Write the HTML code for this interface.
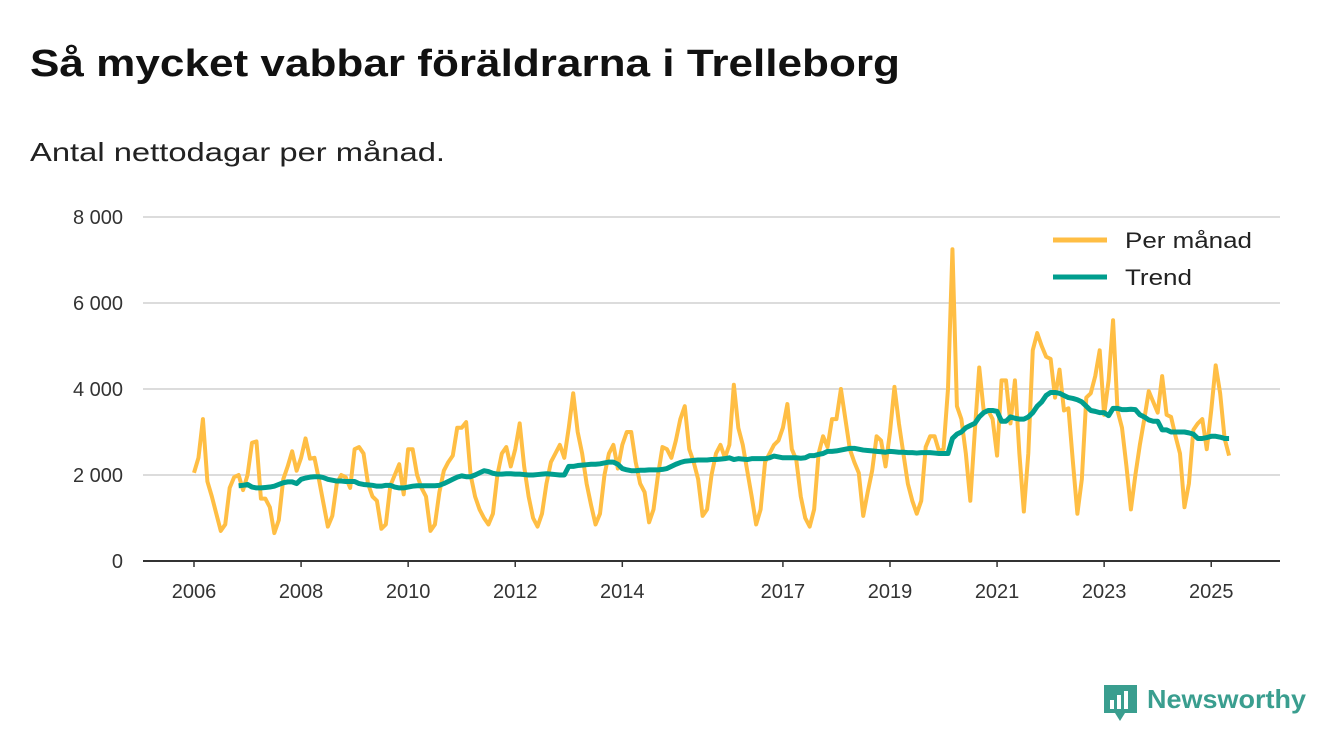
<!DOCTYPE html>
<html><head><meta charset="utf-8">
<style>
body{margin:0;background:#fff;width:1340px;height:753px;overflow:hidden;font-family:"Liberation Sans",sans-serif;}
svg{position:absolute;left:0;top:0}
</style></head>
<body>
<svg id="chart" width="1340" height="753">
<text x="30" y="76" font-size="38" font-weight="bold" fill="#111" textLength="870" lengthAdjust="spacingAndGlyphs">Så mycket vabbar föräldrarna i Trelleborg</text>
<text x="30" y="161" font-size="26" fill="#222" textLength="415" lengthAdjust="spacingAndGlyphs">Antal nettodagar per månad.</text>
<g id="grid"></g>
<g id="xaxis"></g>
<g id="series"></g>
<g>
<rect x="1045" y="222" width="220" height="80" fill="#fff" opacity="0.9"/>
<line x1="1053" y1="240" x2="1107" y2="240" stroke="#FFBE44" stroke-width="5"/>
<text x="1125" y="248" font-size="22" fill="#222" textLength="127" lengthAdjust="spacingAndGlyphs">Per månad</text>
<line x1="1053" y1="277" x2="1107" y2="277" stroke="#009E8E" stroke-width="5"/>
<text x="1125" y="285" font-size="22" fill="#222" textLength="67" lengthAdjust="spacingAndGlyphs">Trend</text>
</g>
<g>
<path d="M1104 685 h33 v28 h-12 l-5 8 l-5 -8 h-11 z" fill="#3a9e8f"/>
<rect x="1110" y="700" width="4" height="9" fill="#fff"/>
<rect x="1117" y="695" width="4" height="14" fill="#fff"/>
<rect x="1124" y="691" width="4" height="18" fill="#fff"/>
<text x="1147" y="708" font-size="26" font-weight="bold" fill="#3a9e8f" textLength="159" lengthAdjust="spacingAndGlyphs">Newsworthy</text>
</g>
</svg>
<script>
const yTicks=[0,2000,4000,6000,8000];
const yTickLabels=["0","2 000","4 000","6 000","8 000"];
const xTickYears=[2006,2008,2010,2012,2014,2017,2019,2021,2023,2025];
const monthly=[
2050,2400,3300,1850,1500,1100,700,850,1700,1950,2000,1650,
2000,2750,2780,1450,1450,1250,650,950,1900,2200,2550,2100,
2400,2850,2380,2400,1900,1350,800,1050,1800,2000,1950,1700,
2600,2650,2500,1800,1500,1400,750,850,1750,2000,2250,1550,
2600,2600,2000,1700,1500,700,850,1600,2100,2300,2450,3100,
3100,3230,2000,1500,1200,1000,850,1100,2000,2500,2650,2200,
2600,3200,2200,1500,1000,800,1100,1800,2300,2500,2700,2400,
3100,3900,3000,2500,1800,1300,850,1100,2000,2500,2700,2150,
2700,3000,3000,2300,1800,1600,900,1200,2000,2650,2600,2400,
2800,3300,3600,2600,2300,1900,1050,1200,2000,2500,2700,2400,
2700,4100,3100,2700,2100,1500,850,1200,2300,2500,2700,2800,
3100,3650,2600,2350,1500,1000,800,1200,2500,2900,2650,3300,
3300,4000,3300,2600,2300,2050,1050,1600,2100,2900,2800,2200,
3000,4050,3200,2500,1800,1400,1100,1400,2650,2900,2900,2550,
2600,4000,7250,3600,3300,2500,1400,3000,4500,3500,3500,3300,
2450,4200,4200,3200,4200,2500,1150,2500,4900,5300,5000,4750,
4700,3800,4450,3500,3550,2300,1100,1900,3800,3900,4300,4900,
3400,4200,5600,3500,3100,2200,1200,2000,2700,3300,3950,3700,
3450,4300,3400,3350,2900,2500,1250,1800,3050,3200,3300,2600,
3500,4550,3900,2850,2450];
const trendStart=10;
const trend=[1750,1760,
1780,1720,1700,1700,1710,1720,1740,1780,1820,1840,1840,1800,
1900,1930,1950,1960,1960,1940,1900,1880,1860,1860,1850,1850,
1850,1800,1780,1770,1760,1740,1740,1760,1760,1720,1700,1700,
1720,1740,1750,1750,1750,1750,1750,1760,1800,1850,1900,1950,
1980,1960,1960,2000,2050,2100,2080,2040,2020,2020,2030,2030,
2020,2020,2010,2000,2000,2010,2020,2030,2020,2010,2000,2000,
2200,2200,2220,2230,2240,2250,2250,2260,2280,2300,2300,2250,
2150,2120,2100,2100,2110,2110,2120,2120,2120,2130,2150,2200,
2250,2290,2320,2330,2340,2350,2350,2350,2360,2360,2370,2380,
2400,2360,2380,2370,2360,2380,2380,2380,2380,2400,2440,2420,
2400,2400,2400,2400,2390,2400,2450,2450,2480,2500,2550,2550,
2560,2580,2600,2620,2620,2600,2580,2570,2560,2550,2540,2530,
2550,2540,2530,2530,2520,2520,2510,2520,2520,2520,2510,2500,
2500,2500,2850,2950,3000,3100,3150,3200,3350,3450,3500,3500,
3480,3250,3250,3350,3320,3300,3300,3350,3450,3600,3700,3850,
3920,3920,3900,3850,3800,3780,3750,3700,3600,3500,3480,3450,
3450,3380,3550,3550,3520,3520,3530,3520,3400,3350,3280,3250,
3250,3050,3050,3000,3000,3000,3000,2980,2950,2850,2850,2870,
2900,2900,2880,2850,2850];
const NS="http://www.w3.org/2000/svg";
const X0=194,MW=4.4615,Y0=561,YS=0.043;
function xs(i){return X0+i*MW;}
function ys(v){return Y0-v*YS;}
function mk(tag,attrs,parent){const e=document.createElementNS(NS,tag);for(const k in attrs)e.setAttribute(k,attrs[k]);parent.appendChild(e);return e;}
const grid=document.getElementById('grid');
yTicks.forEach((t,i)=>{
  if(t>0){const l=mk('line',{x1:143,x2:1280,y1:ys(t),y2:ys(t),stroke:'#dcdcdc','stroke-width':2},grid);
  
  }
  const tx=mk('text',{x:123,y:ys(t)+7,'font-size':20,fill:'#333','text-anchor':'end'},grid);
  tx.textContent=yTickLabels[i];
  
  
});
const xa=document.getElementById('xaxis');
const ax=mk('line',{x1:143,x2:1280,y1:Y0,y2:Y0,stroke:'#333','stroke-width':2},xa);


xTickYears.forEach(yr=>{
  const x=xs((yr-2006)*12);
  mk('line',{x1:x,x2:x,y1:Y0,y2:Y0+6,stroke:'#333','stroke-width':1.5},xa);
  const t=mk('text',{x:x,y:598,'font-size':20,fill:'#333','text-anchor':'middle'},xa);
  t.textContent=yr;
  
  
});
const s=document.getElementById('series');
const p1=mk('polyline',{points:monthly.map((v,i)=>xs(i)+','+ys(v)).join(' '),fill:'none',stroke:'#FFBE44','stroke-width':4,'stroke-linejoin':'round'},s);


const p2=mk('polyline',{points:trend.map((v,i)=>xs(i+trendStart)+','+ys(v)).join(' '),fill:'none',stroke:'#009E8E','stroke-width':5,'stroke-linejoin':'round'},s);


</script>
</body></html>
